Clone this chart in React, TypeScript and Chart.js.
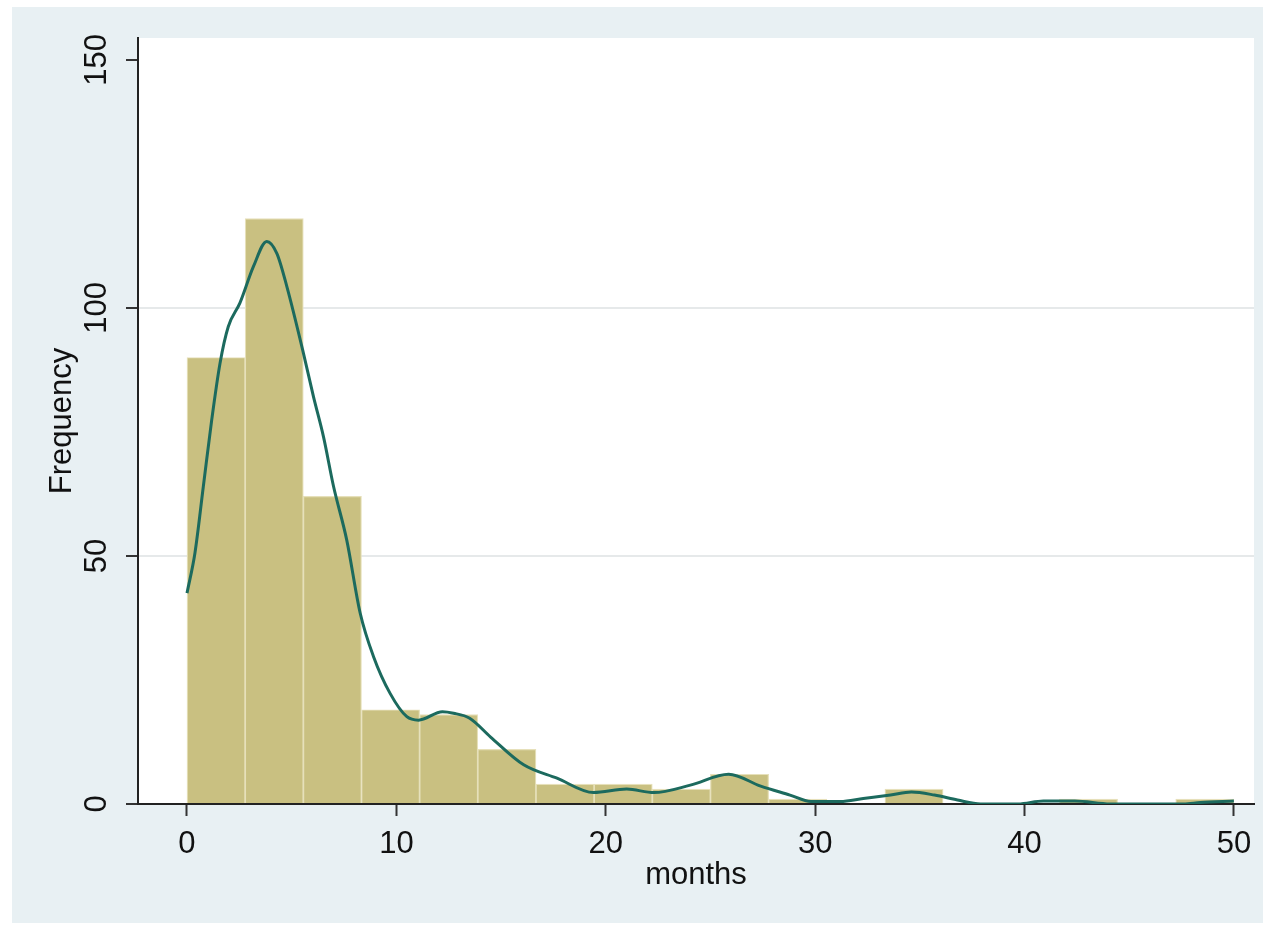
import React, { useEffect, useRef } from "react";
import { Chart, registerables } from "chart.js";

Chart.register(...registerables);

// Histogram: 18 bins of equal width over 0..50 months
const binCount = 18;
const binStart = 0;
const binEnd = 50;
const binCounts = [90, 118, 62, 19, 18, 11, 4, 4, 3, 6, 1, 0, 3, 0, 0, 1, 0, 1];

// Kernel density overlay (scaled to frequency)
const densityX = [0, 0.38, 0.78, 1.18, 1.58, 1.97, 2.53, 3.17, 3.81, 4.29, 4.77, 5.56, 6.04, 6.52, 7.0, 7.63, 8.27, 8.91, 9.7, 10.5, 11.06, 12.2, 12.73, 13.5, 14.5, 16.08, 17.67, 19.42, 21.0, 22.3, 24.04, 25.87, 27.4, 28.8, 29.8, 31.2, 32.3, 33.6, 34.6, 35.7, 36.8, 37.9, 39.7, 40.9, 42.4, 44.1, 47.6, 48.4, 50];
const densityY = [42.5, 50.6, 64, 77.4, 88.9, 96.2, 101, 108.3, 113.4, 111, 104.3, 90.9, 82.1, 74, 64, 53.2, 38.5, 29.7, 22.3, 17.6, 16.9, 18.6, 18.3, 17.3, 13.5, 7.9, 5.2, 2.3, 3.0, 2.3, 3.8, 6.0, 3.6, 1.8, 0.5, 0.5, 1.1, 1.8, 2.4, 1.8, 0.8, 0, 0, 0.6, 0.6, 0, 0, 0.3, 0.6];

const xTicks = [0, 10, 20, 30, 40, 50];
const yTicks = [0, 50, 100, 150];
const xTitle = "months";
const yTitle = "Frequency";

const FONT = "'Liberation Sans', Arial, Helvetica, sans-serif";

export default function App() {
  const canvasRef = useRef<HTMLCanvasElement | null>(null);

  useEffect(() => {
    document.body.style.margin = "0";
    const canvas = canvasRef.current;
    if (!canvas) return;
    const binWidth = (binEnd - binStart) / binCount;
    const barData = binCounts.map((c, i) => ({ x: binStart + (i + 0.5) * binWidth, y: c }));
    const lineData = densityX.map((x, i) => ({ x, y: densityY[i] }));

    const bgPlugin = {
      id: "bgPlugin",
      beforeDraw(chart: any) {
        const { ctx, chartArea } = chart;
        ctx.save();
        ctx.fillStyle = "#ffffff";
        ctx.fillRect(0, 0, chart.width, chart.height);
        ctx.fillStyle = "#e8f0f3";
        ctx.fillRect(12, 7, chart.width - 12, 916);
        ctx.fillStyle = "#ffffff";
        ctx.fillRect(chartArea.left, chartArea.top, chartArea.right - chartArea.left, chartArea.bottom - chartArea.top);
        ctx.restore();
      },
    };

    const chart = new Chart(canvas, {
      type: "bar",
      data: {
        datasets: [
          {
            type: "line",
            data: lineData,
            borderColor: "#1c6a5e",
            borderWidth: 3,
            pointRadius: 0,
            cubicInterpolationMode: "monotone",
            fill: false,
            order: 0,
          } as any,
          {
            type: "bar",
            data: barData,
            backgroundColor: "#c9c081",
            borderColor: "#e6e0ba",
            borderWidth: 1.2,
            borderSkipped: "bottom",
            barPercentage: 1,
            categoryPercentage: 1,
            grouped: false,
            order: 1,
          } as any,
        ],
      },
      options: {
        responsive: false,
        animation: false,
        devicePixelRatio: 1,
        layout: { padding: { top: 38, right: 9, left: 0, bottom: 0 } },
        plugins: { legend: { display: false }, tooltip: { enabled: false } },
        scales: {
          x: {
            type: "linear",
            offset: false,
            min: -2.34,
            max: 50.96,
            afterBuildTicks: (scale: any) => {
              scale.ticks = xTicks.map((v) => ({ value: v }));
            },
            afterFit: (scale: any) => {
              scale.height = 121;
            },
            ticks: {
              autoSkip: false,
              maxRotation: 0,
              minRotation: 0,
              padding: 10,
              color: "#111111",
              font: { family: FONT, size: 31 },
            },
            grid: {
              offset: false,
              drawOnChartArea: false,
              drawTicks: true,
              tickLength: 12,
              tickColor: "#333333",
              tickWidth: 2,
              color: "#333333",
            },
            border: { display: true, color: "#222222", width: 2 },
            title: {
              display: true,
              text: xTitle,
              color: "#111111",
              font: { family: FONT, size: 31 },
              padding: { top: 0, bottom: 31.4 },
            },
          },
          y: {
            type: "linear",
            min: 0,
            max: 154.4,
            afterBuildTicks: (scale: any) => {
              scale.ticks = yTicks.map((v) => ({ value: v }));
            },
            afterFit: (scale: any) => {
              scale.width = 138;
            },
            ticks: {
              autoSkip: false,
              minRotation: 90,
              maxRotation: 90,
              crossAlign: "center",
              padding: 3,
              color: "#111111",
              font: { family: FONT, size: 31 },
            },
            grid: {
              drawOnChartArea: true,
              drawTicks: true,
              tickLength: 12,
              tickColor: "#333333",
              tickWidth: 2,
              lineWidth: 2,
              color: (ctx: any) => {
                const v = ctx.tick ? ctx.tick.value : null;
                return v === 50 || v === 100 ? "#e6e9ea" : "rgba(0,0,0,0)";
              },
            },
            border: { display: true, color: "#222222", width: 2 },
            title: {
              display: true,
              text: yTitle,
              color: "#111111",
              font: { family: FONT, size: 31 },
              padding: { top: 43.4, bottom: 0 },
            },
          },
        },
      },
      plugins: [bgPlugin],
    });

    return () => {
      chart.destroy();
    };
  }, []);

  return (
    <div style={{ position: "absolute", left: 0, top: 0, width: 1263, height: 925 }}>
      <canvas ref={canvasRef} width={1263} height={925} />
    </div>
  );
}
